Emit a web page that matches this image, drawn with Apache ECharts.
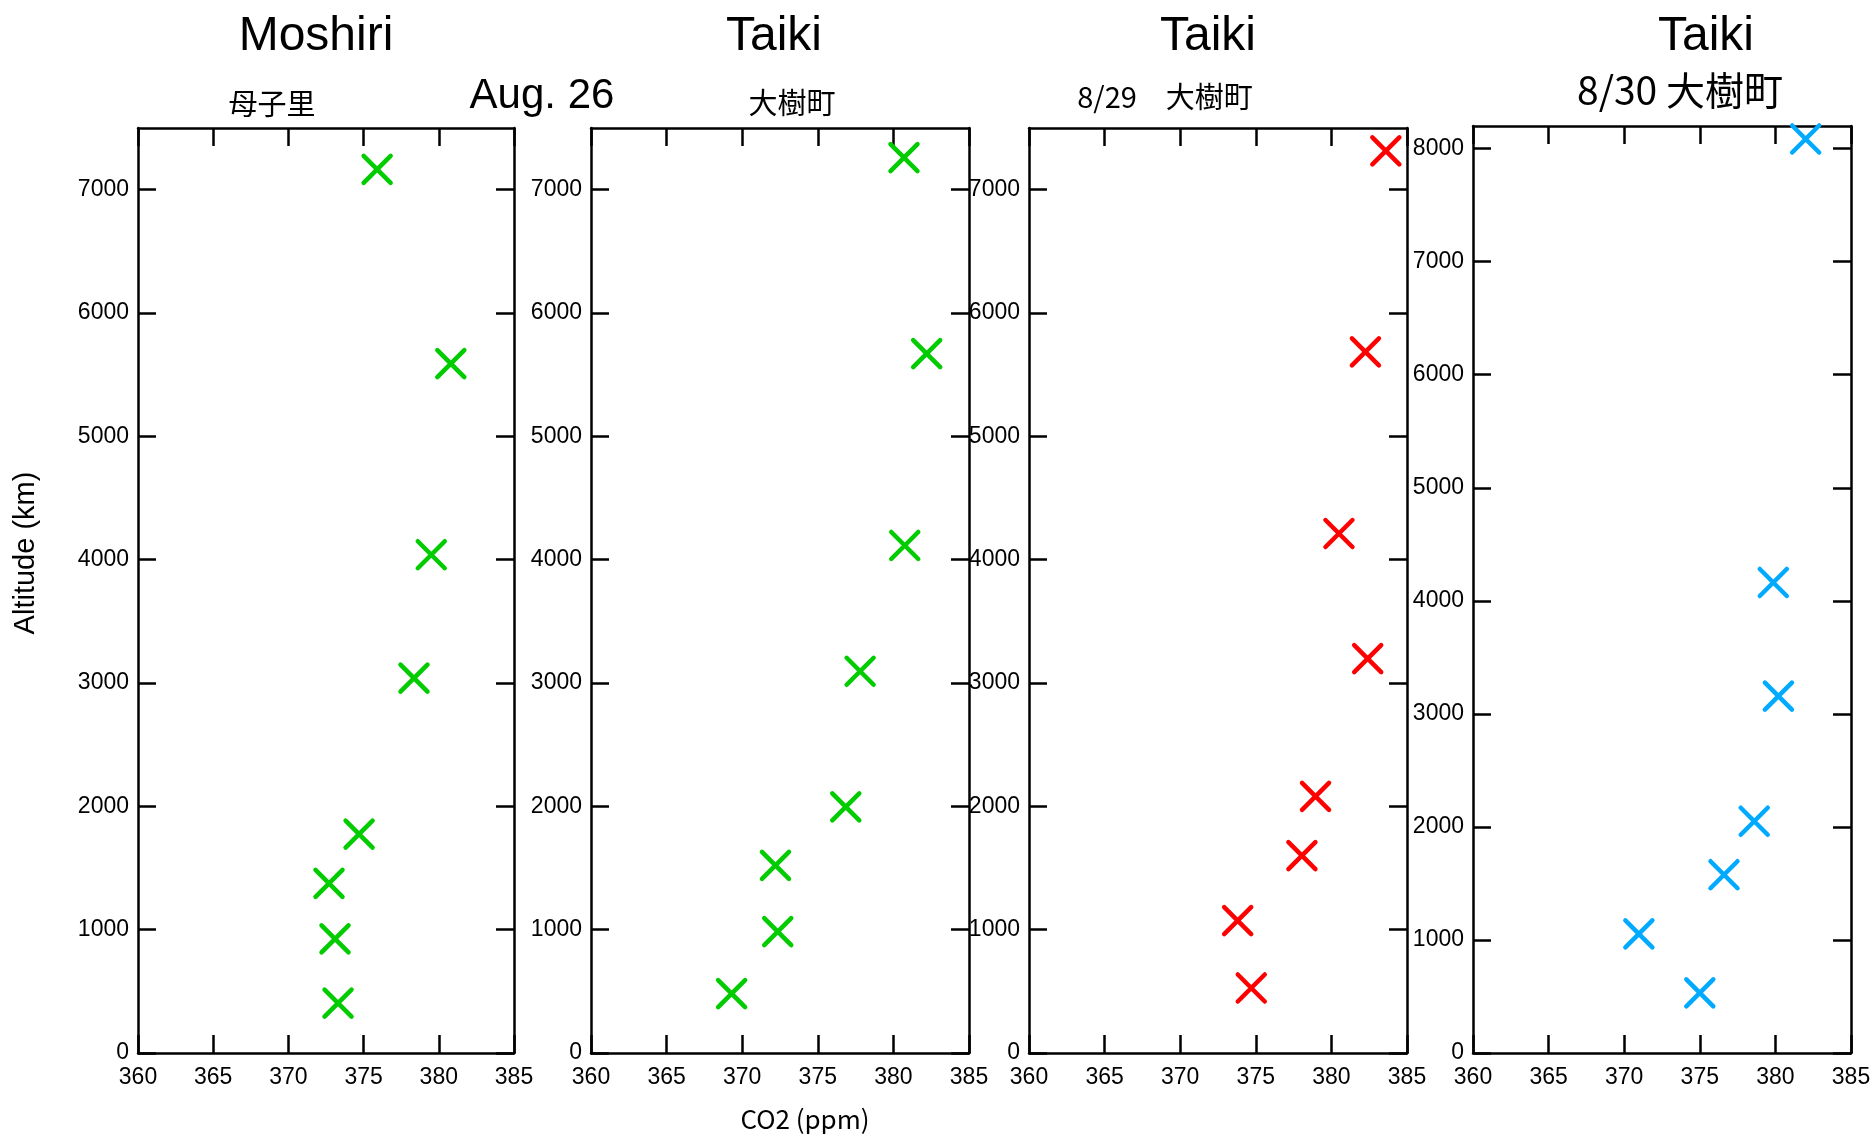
<!DOCTYPE html>
<html>
<head>
<meta charset="utf-8">
<title>CO2 vertical profiles</title>
<script src="https://cdn.jsdelivr.net/npm/echarts@6/dist/echarts.min.js"></script>
<style>
  html, body { margin: 0; padding: 0; background: #fff; }
  #chart { width: 1876px; height: 1134px; }
</style>
</head>
<body>
<div id="chart"></div>
<script>
// Tick values
const co2Ticks = [360, 365, 370, 375, 380, 385];
const altTicks = [0, 1000, 2000, 3000, 4000, 5000, 6000, 7000];
const altTicksAug30 = [0, 1000, 2000, 3000, 4000, 5000, 6000, 7000, 8000];

// [CO2 (ppm), altitude] per flight
const moshiriAug26 = [[375.9, 7165], [380.8, 5590], [379.5, 4040], [378.35, 3040], [374.7, 1775], [372.7, 1375], [373.1, 925], [373.3, 405]];
const taikiAug26 = [[380.7, 7260], [382.2, 5670], [380.75, 4115], [377.8, 3095], [376.85, 1995], [372.2, 1522], [372.35, 984], [369.3, 481]];
const taikiAug29 = [[383.6, 7315], [382.25, 5685], [380.5, 4212], [382.4, 3197], [378.95, 2081], [378.05, 1600], [373.8, 1073], [374.7, 527]];
const taikiAug30 = [[382.0, 8085], [379.86, 4162], [380.2, 3157], [378.6, 2050], [376.6, 1577], [370.97, 1053], [375.0, 532]];

const panels = [
  { data: moshiriAug26, color: '#00cc00', yMax: 7500, yTicks: altTicks, grid: { left: 138, top: 128, width: 376, height: 925 } },
  { data: taikiAug26, color: '#00cc00', yMax: 7500, yTicks: altTicks, grid: { left: 591, top: 128, width: 378, height: 925 } },
  { data: taikiAug29, color: '#ff0000', yMax: 7500, yTicks: altTicks, grid: { left: 1029, top: 128, width: 378, height: 925 } },
  { data: taikiAug30, color: '#00aaff', yMax: 8200, yTicks: altTicksAug30, grid: { left: 1473, top: 126, width: 378, height: 927 } }
];

const tickFont = 'Liberation Sans';
const lineStyle = { color: '#000', width: 2.5 };
const plain = v => String(v);

const grids = [], xAxes = [], yAxes = [], series = [];
panels.forEach((p, i) => {
  grids.push(p.grid);
  ['bottom', 'top'].forEach(pos => {
    xAxes.push({
      type: 'value', gridIndex: i, position: pos, min: 360, max: 385, interval: 5,
      axisLine: { show: true, onZero: false, lineStyle },
      axisTick: { show: true, inside: true, length: 18, lineStyle, customValues: co2Ticks },
      axisLabel: { show: pos === 'bottom', customValues: co2Ticks, formatter: plain, fontSize: 23, color: '#000', margin: 13, fontFamily: tickFont },
      splitLine: { show: false }
    });
  });
  ['left', 'right'].forEach(pos => {
    yAxes.push({
      type: 'value', gridIndex: i, position: pos, min: 0, max: p.yMax, interval: 1000,
      axisLine: { show: true, onZero: false, lineStyle },
      axisTick: { show: true, inside: true, length: 18, lineStyle, customValues: p.yTicks },
      axisLabel: { show: pos === 'left', customValues: p.yTicks, formatter: plain, fontSize: 23, color: '#000', margin: 9, fontFamily: tickFont },
      splitLine: { show: false }
    });
  });
  series.push({
    type: 'scatter',
    xAxisIndex: 2 * i,
    yAxisIndex: 2 * i,
    data: p.data,
    clip: false,
    symbol: 'path://M0 0L10 10M10 0L0 10',
    symbolSize: 27,
    itemStyle: { color: 'transparent', borderColor: p.color, borderWidth: 4.5, borderCap: 'round', opacity: 1 },
    emphasis: { disabled: true },
    z: 3
  });
});

function label(text, x, y, font, extra) {
  return Object.assign({
    type: 'text', x, y, silent: true,
    style: { text, font, fill: '#000', align: 'center', verticalAlign: 'middle' }
  }, extra || {});
}

const titleFont = '48px "Liberation Sans", Arial, sans-serif';
const jpFont = '"Noto Sans CJK JP", sans-serif';

const graphics = [
  label('Moshiri', 316, 37, titleFont),
  label('Taiki', 774, 37, titleFont),
  label('Taiki', 1208, 37, titleFont),
  label('Taiki', 1706, 37, titleFont),
  label('母子里', 272, 104, '29px ' + jpFont),
  label('Aug. 26', 542, 96, '42px "Liberation Sans", Arial, sans-serif'),
  label('大樹町', 792, 103, '29px ' + jpFont),
  label('8/29　大樹町', 1165, 97, '29px ' + jpFont),
  label('8/30 大樹町', 1680, 90, '39px ' + jpFont),
  label('CO2 (ppm)', 805, 1119, '26px ' + jpFont),
  label('Altitude (km)', 26, 553, '29px "Liberation Sans", Arial, sans-serif', { rotation: Math.PI / 2 })
];

const chart = echarts.init(document.getElementById('chart'), null, { renderer: 'canvas' });
chart.setOption({
  animation: false,
  backgroundColor: '#fff',
  grid: grids,
  xAxis: xAxes,
  yAxis: yAxes,
  series: series,
  graphic: graphics
});
</script>
</body>
</html>
